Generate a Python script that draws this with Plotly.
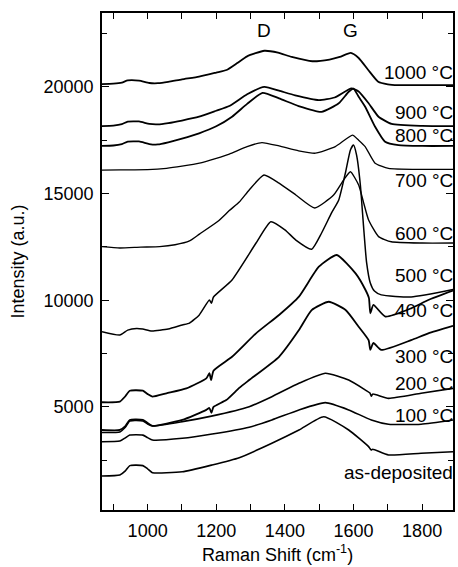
import plotly.graph_objects as go

# ---- data ----
labels = ["1000 °C", "900 °C", "800 °C", "700 °C", "600 °C", "500 °C",
          "400 °C", "300 °C", "200 °C", "100 °C", "as-deposited"]

x_1000 = [867, 900, 925, 942, 975, 1005, 1030, 1060, 1100, 1150, 1200, 1230, 1260, 1290, 1340,
          1380, 1420, 1480, 1530, 1560, 1592, 1615, 1643, 1672, 1700, 1730, 1800, 1890]
y_1000 = [20130, 20150, 20200, 20300, 20290, 20180, 20170, 20230, 20350, 20480, 20670, 20790, 21100, 21430, 21690,
          21600, 21400, 21200, 21280, 21400, 21590, 21350, 20790, 20240, 20120, 20080, 20080, 20080]

x_900 = [867, 900, 925, 942, 975, 1005, 1030, 1060, 1100, 1150, 1200, 1238, 1290, 1340, 1383,
         1430, 1499, 1545, 1594, 1615, 1644, 1673, 1711, 1800, 1890]
y_900 = [18160, 18180, 18250, 18370, 18380, 18260, 18240, 18300, 18420, 18600, 18880, 19100, 19650, 20000, 19820,
         19600, 19380, 19500, 19930, 19780, 19230, 18600, 18260, 18170, 18160]

x_800 = [867, 900, 925, 942, 975, 1005, 1030, 1060, 1100, 1150, 1200, 1246, 1290, 1335, 1383,
         1440, 1507, 1557, 1586, 1600, 1615, 1634, 1663, 1692, 1731, 1800, 1890]
y_800 = [17230, 17250, 17320, 17430, 17440, 17320, 17300, 17400, 17570, 17820, 18150, 18600, 19200, 19720, 19460,
         19100, 18830, 19230, 19770, 19920, 19540, 19070, 18130, 17430, 17270, 17230, 17230]

x_700 = [867, 920, 1000, 1055, 1100, 1151, 1200, 1238, 1290, 1333, 1383, 1440, 1489, 1547, 1597,
         1615, 1634, 1663, 1702, 1800, 1890]
y_700 = [16100, 16110, 16120, 16180, 16280, 16420, 16650, 16850, 17200, 17390, 17230, 17000, 16890, 17200, 17740,
         17500, 17200, 16420, 16180, 16130, 16130]

x_600 = [867, 919, 980, 1035, 1080, 1122, 1151, 1205, 1238, 1267, 1296, 1339, 1383, 1432, 1487,
         1542, 1571, 1591, 1615, 1629, 1644, 1673, 1710, 1800, 1890]
y_600 = [12510, 12450, 12490, 12510, 12600, 12780, 13100, 13700, 14200, 14600, 15170, 15870, 15490, 14930, 14320,
         14930, 15630, 16020, 15400, 14600, 13760, 12980, 12740, 12680, 12680]

x_500 = [867, 919, 942, 968, 986, 1012, 1060, 1101, 1122, 1150, 1180, 1186, 1192, 1246, 1316,
         1359, 1400, 1432, 1478, 1507, 1536, 1557, 1577, 1591, 1600, 1609, 1620, 1629, 1638, 1649,
         1661, 1681, 1768, 1890]
y_500 = [8525, 8370, 8600, 8680, 8650, 8560, 8650, 8840, 8930, 9300, 10010, 9860, 10150, 10950, 12680,
         13680, 13300, 12820, 12390, 13150, 14090, 14700, 16010, 17040, 17270, 16800, 15400, 13520, 11790, 10810,
         10430, 10250, 10150, 10500]

x_400 = [867, 919, 935, 948, 986, 1000, 1014, 1055, 1113, 1171, 1180, 1185, 1192, 1246, 1316,
         1383, 1441, 1499, 1551, 1606, 1635, 1645, 1649, 1658, 1693, 1768, 1818, 1890]
y_400 = [5220, 5250, 5500, 5760, 5760, 5600, 5480, 5640, 5870, 6340, 6580, 6260, 6700, 7350, 8450,
         9310, 10170, 11570, 12120, 11260, 10480, 10100, 9390, 9780, 9230, 9620, 10010, 10450]

x_300 = [867, 919, 935, 948, 986, 1000, 1014, 1101, 1171, 1180, 1186, 1192, 1229, 1267, 1296,
         1383, 1441, 1478, 1528, 1577, 1615, 1644, 1649, 1658, 1681, 1768, 1818, 1890]
y_300 = [3920, 3920, 4100, 4390, 4390, 4250, 4110, 4390, 4860, 4950, 4720, 5000, 5320, 5890, 6260,
         7350, 8600, 9540, 9930, 9540, 8760, 8130, 7670, 8000, 7670, 8130, 8450, 8800]

x_200 = [867, 919, 935, 948, 986, 1000, 1014, 1101, 1186, 1296, 1362, 1441, 1518, 1586, 1635,
         1648, 1652, 1656, 1702, 1797, 1890]
y_200 = [3800, 3830, 4050, 4340, 4340, 4200, 4110, 4310, 4570, 5010, 5480, 6110, 6580, 6260, 5790,
         5650, 5500, 5600, 5400, 5640, 5870]

x_100 = [867, 919, 935, 948, 986, 1000, 1014, 1101, 1188, 1296, 1362, 1441, 1518, 1586, 1652,
         1702, 1797, 1890]
y_100 = [3370, 3400, 3550, 3680, 3680, 3560, 3450, 3530, 3730, 4050, 4390, 4860, 5200, 4860, 4390,
         4190, 4190, 4390]

x_asdep = [867, 919, 935, 948, 986, 1000, 1014, 1101, 1188, 1267, 1362, 1441, 1513, 1586, 1644,
           1648, 1652, 1656, 1702, 1797, 1890]
y_asdep = [1760, 1810, 2000, 2250, 2250, 2100, 1920, 1960, 2280, 2620, 3300, 3920, 4540, 3920, 3140,
           3050, 2980, 3020, 2750, 2830, 2900]

peak_labels = ["D", "G"]
peak_x = [1339, 1591]

# ---- styling ----
label_y = [20670, 18820, 17700, 15630, 13150, 11180, 9540, 7350, 6120, 4620, 1950]
widths = [1.8, 1.8, 1.8, 1.3, 1.4, 1.5, 1.8, 1.8, 1.6, 1.6, 1.6]
FONT = "Arial, Liberation Sans, Helvetica, sans-serif"

series = [(x_1000, y_1000), (x_900, y_900), (x_800, y_800), (x_700, y_700), (x_600, y_600),
          (x_500, y_500), (x_400, y_400), (x_300, y_300), (x_200, y_200), (x_100, y_100),
          (x_asdep, y_asdep)]

fig = go.Figure()
for (xs, ys), w, name in zip(series, widths, labels):
    fig.add_trace(go.Scatter(x=xs, y=ys, mode="lines", name=name, showlegend=False,
                             line=dict(color="black", width=w, shape="spline", smoothing=0.5)))

annotations = []
for name, yv in zip(labels, label_y):
    annotations.append(dict(x=1.005, xref="paper", y=yv, yref="y", text=name, showarrow=False,
                            xanchor="right", yanchor="middle",
                            font=dict(family=FONT, size=19, color="black")))
for t, xv in zip(peak_labels, peak_x):
    annotations.append(dict(x=xv, xref="x", y=22660, yref="y", text=t, showarrow=False,
                            xanchor="center", yanchor="middle",
                            font=dict(family=FONT, size=19, color="black")))

axis_common = dict(showline=True, linecolor="black", linewidth=1.5, mirror="allticks",
                   ticks="inside", tickcolor="black", showgrid=False, zeroline=False,
                   tickfont=dict(family=FONT, size=18, color="black"))

fig.update_layout(
    width=458, height=567,
    margin=dict(l=102, r=3, t=13, b=57),
    paper_bgcolor="white", plot_bgcolor="white",
    annotations=annotations,
    xaxis=dict(range=[867, 1890], tick0=1000, dtick=200, ticklen=6, tickwidth=1.2, tickformat="d",
               ticklabelstandoff=4,
               minor=dict(dtick=100, tick0=1000, ticks="inside", ticklen=6, tickcolor="black", tickwidth=1.2),
               title=dict(text="Raman Shift (cm<sup>-1</sup>)", standoff=8,
                          font=dict(family=FONT, size=18, color="black")),
               **axis_common),
    yaxis=dict(range=[170, 23460], tick0=0, dtick=5000, ticklen=7, tickwidth=1.2, tickformat="d",
               ticklabelstandoff=3,
               minor=dict(dtick=2500, tick0=0, ticks="inside", ticklen=5, tickcolor="black", tickwidth=1.2),
               title=dict(text="Intensity (a.u.)", standoff=14,
                          font=dict(family=FONT, size=18, color="black")),
               **axis_common),
)

fig.write_html("out.html", config={"displayModeBar": False},
               post_script="document.body.style.margin='0';document.body.style.padding='0';"
                           "document.documentElement.style.overflow='hidden';")
